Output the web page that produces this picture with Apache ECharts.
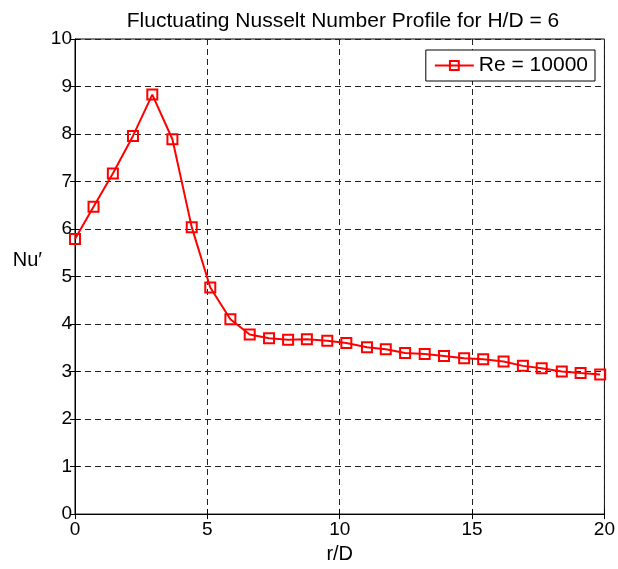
<!DOCTYPE html>
<html>
<head>
<meta charset="utf-8">
<script src="https://cdn.jsdelivr.net/npm/echarts@6/dist/echarts.min.js"></script>
<style>html,body{margin:0;padding:0;background:#fff;}#c{width:618px;height:569px;}</style>
</head>
<body>
<div id="c"></div>
<script>
const rD = [0, 0.70, 1.43, 2.19, 2.92, 3.68, 4.41, 5.11, 5.87, 6.60, 7.33, 8.05, 8.76, 9.53, 10.25, 11.03, 11.74, 12.47, 13.21, 13.94, 14.70, 15.42, 16.19, 16.92, 17.63, 18.39, 19.10, 19.84];
const nu = [5.79, 6.47, 7.17, 7.96, 8.83, 7.89, 6.04, 4.77, 4.10, 3.78, 3.70, 3.67, 3.68, 3.65, 3.60, 3.51, 3.47, 3.39, 3.37, 3.33, 3.28, 3.26, 3.21, 3.12, 3.07, 3.00, 2.97, 2.94];
const seriesName = 'Re = 10000';
const titleText = 'Fluctuating Nusselt Number Profile for H/D = 6';

const chart = echarts.init(document.getElementById('c'), null, {renderer: 'canvas'});
const font = 'Liberation Sans, Arial, sans-serif';
const dash = {show: true, lineStyle: {type: [6, 4], color: '#222', width: 1}};
const tick = {show: true, inside: true, length: 5, lineStyle: {color: '#000'}};
chart.setOption({
  animation: false,
  backgroundColor: '#fff',
  title: {
    text: titleText, left: 338, top: 6, textAlign: 'center',
    textStyle: {fontFamily: font, fontSize: 21, fontWeight: 'normal', color: '#000'}
  },
  legend: {
    right: 23, top: 50, orient: 'vertical',
    backgroundColor: '#fff', borderColor: '#000', borderWidth: 1, borderRadius: 0,
    padding: [5, 7, 5, 8], itemWidth: 39, itemHeight: 11, itemGap: 4,
    textStyle: {fontFamily: font, fontSize: 21, color: '#000'},
    data: [{name: seriesName}]
  },
  grid: {left: 75, right: 12, top: 39, bottom: 51, show: true, borderColor: '#000', borderWidth: 1, containLabel: false},
  xAxis: [{
    type: 'value', min: 0, max: 20, interval: 5,
    name: 'r/D', nameLocation: 'middle', nameGap: 27,
    nameTextStyle: {fontFamily: font, fontSize: 20, color: '#000'},
    axisLine: {show: true, lineStyle: {color: '#000'}},
    axisTick: tick,
    axisLabel: {fontFamily: font, fontSize: 19, color: '#000', margin: 6},
    splitLine: dash
  }, {
    type: 'value', min: 0, max: 20, interval: 5, position: 'top',
    axisLine: {show: true, lineStyle: {color: '#000'}},
    axisTick: tick, axisLabel: {show: false}, splitLine: {show: false}
  }],
  yAxis: [{
    type: 'value', min: 0, max: 10, interval: 1,
    name: 'Nu\u2032', nameLocation: 'middle', nameRotate: 0, nameGap: 33,
    nameTextStyle: {fontFamily: font, fontSize: 20, color: '#000', verticalAlign: 'bottom', padding: [0, 0, 6, 0]},
    axisLine: {show: true, lineStyle: {color: '#000'}},
    axisTick: tick,
    axisLabel: {fontFamily: font, fontSize: 19, color: '#000', margin: 3},
    splitLine: dash
  }, {
    type: 'value', min: 0, max: 10, interval: 1, position: 'right',
    axisLine: {show: true, lineStyle: {color: '#000'}},
    axisTick: tick, axisLabel: {show: false}, splitLine: {show: false}
  }],
  series: [{
    name: seriesName, type: 'line', xAxisIndex: 0, yAxisIndex: 0,
    data: rD.map((x, i) => [x, nu[i]]),
    symbol: 'rect', symbolSize: 10,
    lineStyle: {color: '#ff0000', width: 2},
    itemStyle: {color: 'rgba(255,255,255,0)', borderColor: '#ff0000', borderWidth: 2},
    emphasis: {disabled: true}
  }]
});
</script>
</body>
</html>
